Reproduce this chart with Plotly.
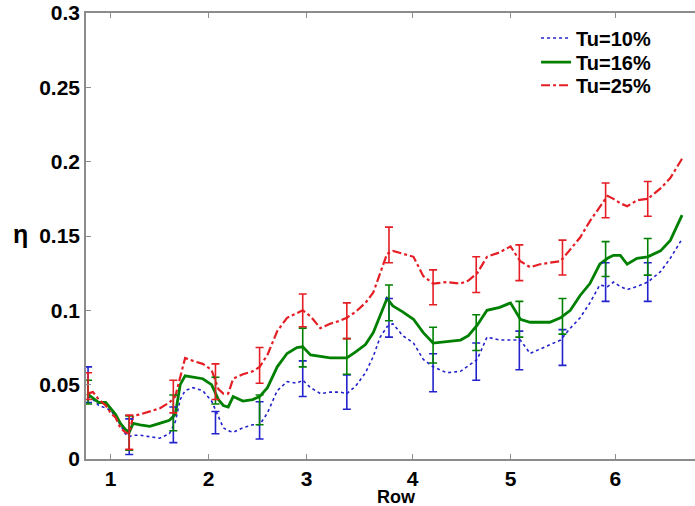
import plotly.graph_objects as go

# Row position (linear coordinate along the passage)
pos = [0.76, 0.82, 0.88, 0.95, 1.0, 1.05, 1.1, 1.15, 1.19, 1.23, 1.3, 1.4, 1.5, 1.6, 1.66, 1.71, 1.76, 1.84,
       1.94, 2.03, 2.1, 2.15, 2.2, 2.25, 2.35, 2.45, 2.52, 2.6, 2.7, 2.8, 2.9, 2.96, 3.04, 3.14, 3.24, 3.34,
       3.41, 3.5, 3.6, 3.68, 3.75, 3.82, 3.88, 3.98, 4.09, 4.19, 4.29, 4.43, 4.57, 4.65, 4.74, 4.84, 4.97,
       5.08, 5.18, 5.28, 5.38, 5.48, 5.59, 5.69, 5.79, 5.89, 5.99, 6.07, 6.13, 6.2, 6.27, 6.37, 6.48, 6.61,
       6.71, 6.83]

eta_tu10 = [0.042, 0.040, 0.036, 0.034, 0.033, 0.028, 0.023, 0.017, 0.015, 0.016, 0.016, 0.015, 0.014, 0.017,
            0.025, 0.040, 0.046, 0.048, 0.046, 0.039, 0.028, 0.021, 0.019, 0.018, 0.021, 0.023, 0.023, 0.031,
            0.046, 0.052, 0.051, 0.053, 0.048, 0.044, 0.045, 0.045, 0.044, 0.049, 0.058, 0.069, 0.082, 0.089,
            0.091, 0.083, 0.078, 0.067, 0.062, 0.058, 0.059, 0.063, 0.067, 0.082, 0.080, 0.080, 0.080, 0.071,
            0.074, 0.077, 0.080, 0.088, 0.095, 0.105, 0.117, 0.116, 0.119, 0.116, 0.114, 0.116, 0.119, 0.126,
            0.135, 0.148]

eta_tu16 = [0.044, 0.041, 0.038, 0.038, 0.034, 0.030, 0.024, 0.020, 0.018, 0.024, 0.023, 0.022, 0.024, 0.026,
            0.030, 0.050, 0.056, 0.055, 0.054, 0.050, 0.040, 0.036, 0.035, 0.042, 0.039, 0.040, 0.042, 0.048,
            0.062, 0.071, 0.075, 0.0755, 0.070, 0.069, 0.068, 0.068, 0.068, 0.072, 0.077, 0.085, 0.097, 0.108,
            0.103, 0.099, 0.094, 0.085, 0.078, 0.079, 0.080, 0.083, 0.090, 0.100, 0.102, 0.105, 0.094, 0.092,
            0.092, 0.092, 0.095, 0.100, 0.110, 0.118, 0.131, 0.135, 0.137, 0.137, 0.131, 0.135, 0.136, 0.140,
            0.147, 0.164]

eta_tu25 = [0.044, 0.045, 0.040, 0.036, 0.031, 0.028, 0.021, 0.018, 0.017, 0.029, 0.030, 0.032, 0.034, 0.038,
            0.042, 0.055, 0.068, 0.066, 0.064, 0.060, 0.047, 0.044, 0.044, 0.054, 0.057, 0.059, 0.062, 0.070,
            0.086, 0.095, 0.098, 0.100, 0.096, 0.088, 0.091, 0.093, 0.095, 0.099, 0.105, 0.112, 0.125, 0.138,
            0.140, 0.138, 0.136, 0.123, 0.118, 0.119, 0.118, 0.120, 0.125, 0.136, 0.139, 0.143, 0.133, 0.129,
            0.131, 0.132, 0.133, 0.141, 0.149, 0.160, 0.169, 0.177, 0.175, 0.172, 0.170, 0.174, 0.175, 0.182,
            0.189, 0.202]

# Error bar stations
err_pos = [0.77, 1.19, 1.64, 2.07, 2.52, 2.96, 3.41, 3.84, 4.29, 4.73, 5.17, 5.61, 6.05, 6.48]
err_c_tu10 = [0.050, 0.015, 0.023, 0.0245, 0.026, 0.054, 0.045, 0.095, 0.058, 0.0655, 0.073, 0.075, 0.119, 0.119]
err_h_tu10 = [0.012, 0.012, 0.012, 0.0075, 0.0125, 0.012, 0.0115, 0.013, 0.0128, 0.0125, 0.013, 0.012, 0.013, 0.013]
err_c_tu16 = [0.045, 0.0175, 0.031, 0.046, 0.033, 0.075, 0.069, 0.105, 0.0766, 0.085, 0.094, 0.096, 0.1345, 0.136]
err_h_tu16 = [0.008, 0.0115, 0.012, 0.009, 0.010, 0.013, 0.012, 0.012, 0.012, 0.012, 0.012, 0.012, 0.0117, 0.0123]
err_c_tu25 = [0.049, 0.018, 0.042, 0.052, 0.063, 0.100, 0.093, 0.144, 0.1155, 0.124, 0.132, 0.1355, 0.174, 0.175]
err_h_tu25 = [0.009, 0.0115, 0.011, 0.012, 0.012, 0.011, 0.012, 0.012, 0.0117, 0.012, 0.012, 0.0117, 0.0117, 0.0117]

row_tickvals = [1, 2, 3, 4.08, 5.08, 6.15]
row_ticktext = ["1", "2", "3", "4", "5", "6"]
eta_tickvals = [0, 0.05, 0.1, 0.15, 0.2, 0.25, 0.3]
eta_ticktext = ["0", "0.05", "0.1", "0.15", "0.2", "0.25", "0.3"]

BLUE = "rgb(35,35,205)"
GREEN = "rgb(0,128,0)"
RED = "rgb(228,30,36)"
FONT = "Liberation Sans, Arial, Helvetica, sans-serif"

fig = go.Figure()

series = [
    ("Tu=10%", eta_tu10, BLUE, "dot", 1.6, err_c_tu10, err_h_tu10, "legend"),
    ("Tu=16%", eta_tu16, GREEN, "solid", 2.8, err_c_tu16, err_h_tu16, "legend2"),
    ("Tu=25%", eta_tu25, RED, "dashdot", 2.2, err_c_tu25, err_h_tu25, "legend3"),
]

for name, ys, col, dash, w, ec, eh, lg in series:
    fig.add_trace(go.Scatter(x=pos, y=ys, mode="lines", name=name, legend=lg,
                             line=dict(color=col, dash=dash, width=w)))

for name, ys, col, dash, w, ec, eh, lg in series:
    fig.add_trace(go.Scatter(x=err_pos, y=ec, mode="markers", showlegend=False,
                             marker=dict(size=1, color="rgba(0,0,0,0)"),
                             error_y=dict(type="data", array=eh, color=col, thickness=1.6, width=4)))

legend_font = dict(size=20, family=FONT, weight="bold", color="black")


def legend_box(yc):
    return dict(x=0.739, y=yc, xanchor="left", yanchor="middle",
                bgcolor="rgba(255,255,255,0)", font=legend_font, itemwidth=30)


axis_col = "rgb(140,140,140)"
fig.update_layout(
    width=695, height=506,
    margin=dict(l=86, r=0, t=13, b=47),
    paper_bgcolor="white", plot_bgcolor="white",
    font=dict(family=FONT, size=20, color="black", weight="bold"),
    showlegend=True,
    legend=legend_box(0.944),
    legend2=legend_box(0.890),
    legend3=legend_box(0.838),
    xaxis=dict(range=[0.749, 6.962], tickvals=row_tickvals, ticktext=row_ticktext,
               showline=True, linecolor=axis_col, linewidth=1.5, mirror="ticks",
               ticks="inside", ticklen=5, tickcolor=axis_col, showgrid=False, zeroline=False,
               ticklabeloverflow="allow",
               tickfont=dict(size=21, family=FONT, weight="bold")),
    yaxis=dict(range=[0, 0.3], tickvals=eta_tickvals, ticktext=eta_ticktext,
               showline=True, linecolor=axis_col, linewidth=1.5, mirror=False,
               ticks="inside", ticklen=5, tickcolor=axis_col, showgrid=False, zeroline=False,
               ticklabeloverflow="allow",
               tickfont=dict(size=21, family=FONT, weight="bold")),
)

fig.add_annotation(text="Row", xref="paper", yref="paper", x=0.51, y=-0.086,
                   xanchor="center", yanchor="middle", showarrow=False,
                   font=dict(size=18, family=FONT, weight="bold"))
fig.add_annotation(text="η", xref="paper", yref="paper", x=-0.107, y=0.504,
                   xanchor="center", yanchor="middle", showarrow=False,
                   font=dict(size=25, family=FONT, weight="bold"))

fig.write_html("out.html", config={"displayModeBar": False},
               post_script="document.body.style.margin='0';document.body.style.overflow='hidden';")
